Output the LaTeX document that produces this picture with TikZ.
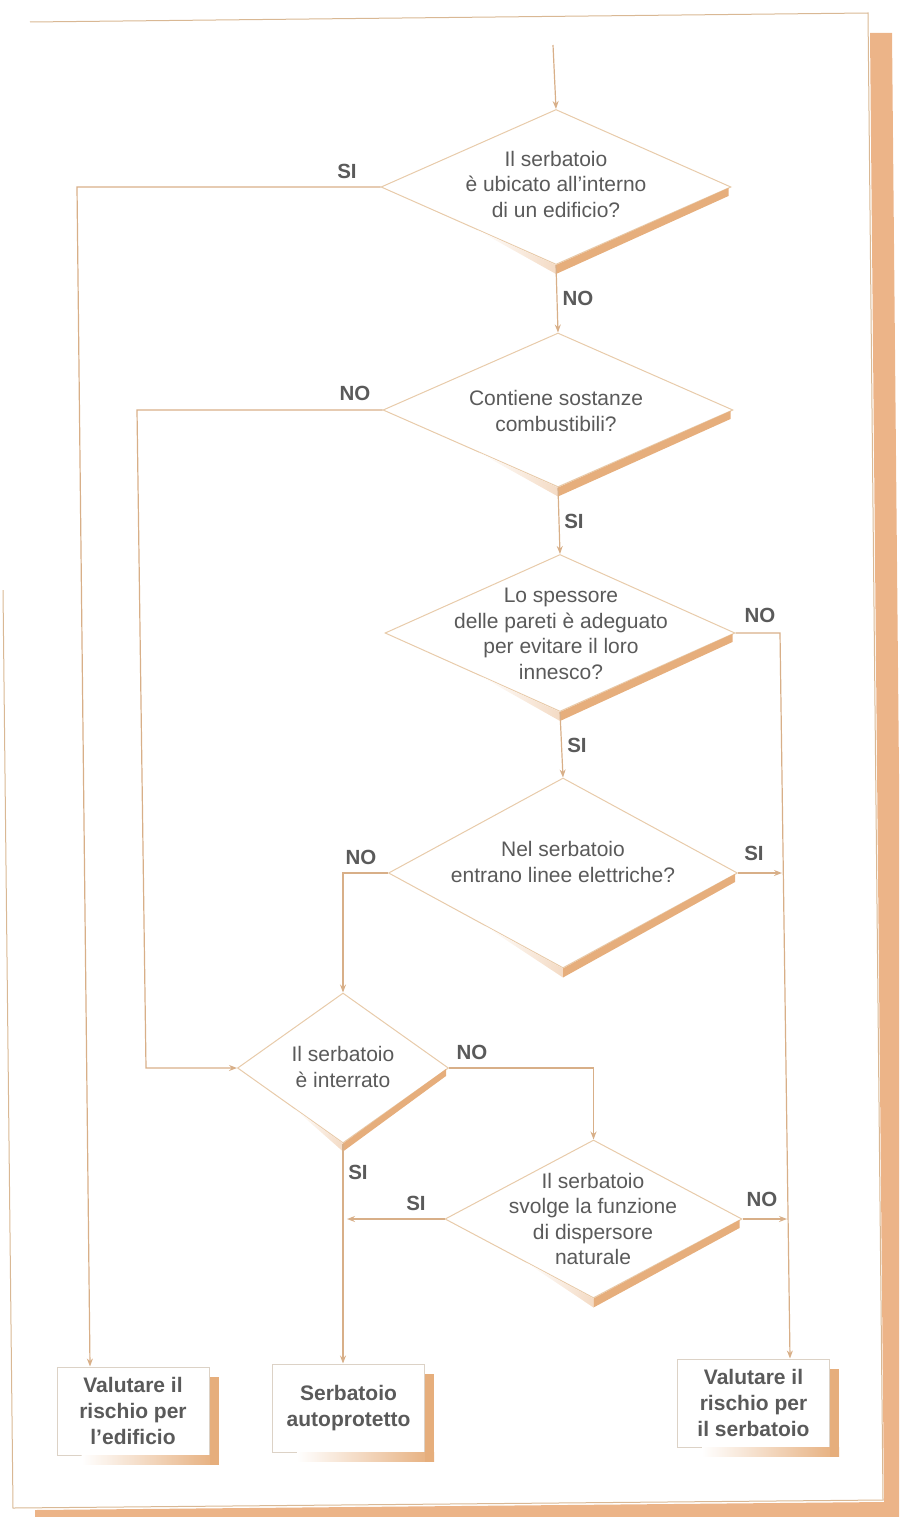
\documentclass[tikz,border=0pt]{standalone}
\usepackage{fontspec}
\setmainfont{Liberation Sans}
\usetikzlibrary{shapes.geometric,arrows.meta,calc}
\definecolor{linec}{HTML}{D8AF88}
\definecolor{edgec}{HTML}{E8CBAA}
\definecolor{shadec}{HTML}{E6AE7C}
\definecolor{pagec}{HTML}{ECB488}
\definecolor{pagel}{HTML}{D9B894}
\definecolor{txtc}{HTML}{5A5A5A}
\definecolor{boxc}{HTML}{DCD2C6}

\begin{document}
\begin{tikzpicture}[x=1pt,y=-1pt,
  conn/.style={linec, line width=1.2pt},
  arr/.style={conn,-{Stealth[length=8pt,width=6pt]}},
  decision/.style={diamond, draw=edgec, line width=1pt, fill=white, inner sep=0pt},
  qtext/.style={text=txtc, align=center, font=\fontsize{21}{25.5}\selectfont, inner sep=0pt},
  answer/.style={text=txtc, font=\fontsize{20.5}{24}\bfseries\selectfont, inner sep=0pt},
  endbox/.style={draw=boxc, line width=1pt, fill=white, minimum width=152pt,
    minimum height=88pt, align=center, text=txtc,
    font=\fontsize{21}{26}\bfseries\selectfont, inner sep=0pt},
]
\useasboundingbox (0,0) rectangle (899,1517);
\clip (0,0) rectangle (899,1517);

% page sheet and its shadow
\fill[pagec] (870,33) -- (892,33) -- (906,1517) -- (35,1517) -- (35,1510) -- (884,1502) -- cycle;
\draw[pagel, line width=1pt] (30,22) -- (868,13) -- (883,1500) -- (13,1508) -- (3,590);

% decisions
\node[decision, minimum width=350pt, minimum height=155pt] (d1) at (556,187) {};
\node[decision, minimum width=350pt, minimum height=154pt] (d2) at (558,410) {};
\node[decision, minimum width=350pt, minimum height=157pt] (d3) at (560,633) {};
\node[decision, minimum width=349pt, minimum height=190pt] (d4) at (563,873) {};
\node[decision, minimum width=211pt, minimum height=150pt] (d5) at (343,1068) {};
\node[decision, minimum width=297pt, minimum height=158pt] (d6) at (593.5,1219) {};

% shadow bands under the lower right edges
\foreach \d/\t in {d1/9,d2/9,d3/9,d4/9,d5/8,d6/9}{
  \shade[left color=white, right color=shadec!45]
    ($(\d.south)!0.45!(\d.west)$) -- (\d.south) -- ([yshift=-\t pt]\d.south) -- cycle;
  \fill[shadec] ([xshift=-3pt,yshift=-1pt]\d.east) -- (\d.south)
    -- ([yshift=-\t pt]\d.south) -- ([xshift=-3pt,yshift=-\t pt]\d.east) -- cycle;
}

% question texts
\node[qtext] (t1) at (556,184) {Il serbatoio\\è ubicato all’interno\\di un edificio?};
\node[qtext] (t2) at (556,411) {Contiene sostanze\\combustibili?};
\node[qtext] (t3) at (561,634) {Lo spessore\\delle pareti è adeguato\\per evitare il loro\\innesco?};
\node[qtext] (t4) at (563,862) {Nel serbatoio\\entrano linee elettriche?};
\node[qtext] (t5) at (343,1067) {Il serbatoio\\è interrato};
\node[qtext] (t6) at (593,1219) {Il serbatoio\\svolge la funzione\\di dispersore\\naturale};

% final boxes
\node[endbox] (b1) at (133,1411) {Valutare il\\rischio per\\l’edificio};
\node[endbox] (b2) at (348.5,1408) {Serbatoio\\autoprotetto};
\node[endbox] (b3) at (753.5,1403) {Valutare il\\rischio per\\il serbatoio};
\foreach \b in {b1,b2,b3}{
  \shade[left color=white, right color=shadec]
    ([xshift=25pt]\b.south west) rectangle ([shift={(9pt,-9pt)}]\b.south east);
  \fill[shadec] ([yshift=-10pt]\b.north east) rectangle ([shift={(9pt,-9pt)}]\b.south east);
}

% connectors
\coordinate (start) at (553,45);
\draw[arr] (start) -- (d1.north);
\draw[arr] (d1.west) -- (77,187) -- ([xshift=-43pt]b1.north);
\draw[arr] (d1.south) -- (d2.north);
\draw[arr] (d2.west) -- (137,410) -- (146,1068) -- (d5.west);
\draw[arr] (d2.south) -- (d3.north);
\draw[arr] (d3.east) -- (780,633) -- ([xshift=36.5pt]b3.north);
\draw[arr] (d3.south) -- (d4.north);
\draw[arr] (d4.east) -- (782,873);
\draw[arr] (d4.west) -| (d5.north);
\draw[arr] (d5.east) -| (d6.north);
\draw[arr] (d5.south) -- (d5.south |- b2.north);
\draw[arr] (d6.west) -- ([xshift=4pt]d6.west -| d5.south);
\draw[arr] (d6.east) -- (787,1219);

% answers
\node[answer] (a1) at (347,171) {SI};
\node[answer] (a2) at (578,298) {NO};
\node[answer] (a3) at (355,393) {NO};
\node[answer] (a4) at (574,521) {SI};
\node[answer] (a5) at (760,615) {NO};
\node[answer] (a6) at (577,745) {SI};
\node[answer] (a7) at (361,857) {NO};
\node[answer] (a8) at (754,853) {SI};
\node[answer] (a9) at (472,1052) {NO};
\node[answer] (a10) at (358,1172) {SI};
\node[answer] (a11) at (416,1203) {SI};
\node[answer] (a12) at (762,1199) {NO};
\end{tikzpicture}
\end{document}
